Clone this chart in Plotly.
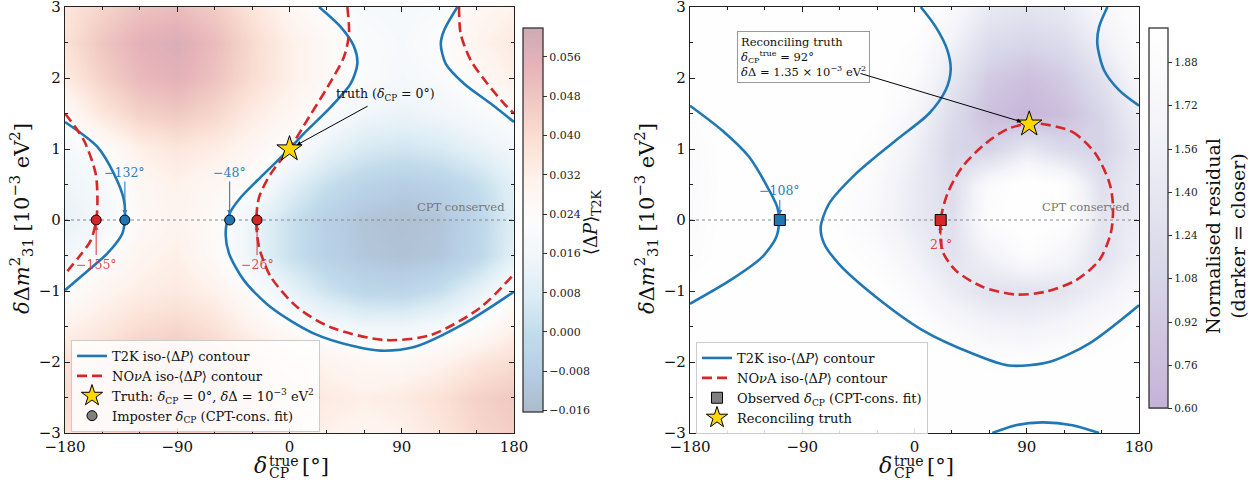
import plotly.graph_objects as go

# ---------------------------------------------------------------------------
# Background fields sampled on a coarse (delta_CP, delta dm^2_31) grid
# ---------------------------------------------------------------------------
DCP_GRID = [-180, -150, -120, -90, -60, -30, 0, 30, 60, 90, 120, 150, 180]
DM_GRID = [-3.0, -2.5, -2.0, -1.5, -1.0, -0.5, 0.0, 0.5, 1.0, 1.5, 2.0, 2.5, 3.0]

# <Delta P>_T2K (rows follow DM_GRID, columns follow DCP_GRID)
DP_T2K = [
    [0.038, 0.042, 0.046, 0.047, 0.043, 0.038, 0.034, 0.031, 0.029, 0.031, 0.036, 0.042, 0.045],
    [0.040, 0.045, 0.050, 0.052, 0.047, 0.042, 0.038, 0.034, 0.032, 0.034, 0.038, 0.044, 0.047],
    [0.038, 0.042, 0.047, 0.049, 0.045, 0.040, 0.035, 0.030, 0.027, 0.027, 0.030, 0.036, 0.040],
    [0.031, 0.035, 0.040, 0.042, 0.038, 0.030, 0.024, 0.018, 0.015, 0.015, 0.018, 0.023, 0.031],
    [0.022, 0.029, 0.033, 0.035, 0.031, 0.023, 0.012, 0.003, -0.003, -0.004, 0.001, 0.011, 0.022],
    [0.016, 0.023, 0.029, 0.032, 0.025, 0.013, 0.002, -0.006, -0.011, -0.013, -0.011, -0.003, 0.010],
    [0.012, 0.016, 0.026, 0.030, 0.025, 0.013, 0.002, -0.007, -0.012, -0.014, -0.012, -0.004, 0.009],
    [0.014, 0.018, 0.027, 0.031, 0.027, 0.023, 0.010, 0.001, -0.005, -0.008, -0.006, 0.000, 0.010],
    [0.018, 0.023, 0.032, 0.036, 0.033, 0.028, 0.022, 0.012, 0.006, 0.004, 0.006, 0.011, 0.016],
    [0.025, 0.036, 0.044, 0.047, 0.042, 0.034, 0.028, 0.021, 0.015, 0.013, 0.015, 0.019, 0.024],
    [0.034, 0.044, 0.052, 0.055, 0.049, 0.040, 0.032, 0.026, 0.021, 0.018, 0.020, 0.026, 0.032],
    [0.038, 0.048, 0.055, 0.058, 0.051, 0.041, 0.032, 0.026, 0.021, 0.019, 0.022, 0.030, 0.035],
    [0.036, 0.043, 0.049, 0.051, 0.046, 0.037, 0.028, 0.022, 0.019, 0.018, 0.020, 0.027, 0.031],
]

# normalised residual of the joint fit (same grid)
RESIDUAL = [
    [2.10, 2.10, 2.10, 2.10, 2.10, 2.10, 2.10, 2.10, 2.10, 2.10, 2.10, 2.10, 2.10],
    [2.10, 2.10, 2.10, 2.10, 2.10, 2.10, 2.10, 2.10, 2.10, 2.10, 2.10, 2.10, 2.10],
    [2.10, 2.10, 2.10, 2.10, 2.10, 2.10, 2.10, 2.05, 1.95, 1.95, 2.00, 2.05, 2.10],
    [2.10, 2.10, 2.10, 2.10, 2.10, 2.10, 2.00, 1.80, 1.65, 1.60, 1.70, 1.85, 2.00],
    [2.05, 2.10, 2.10, 2.10, 2.10, 2.05, 1.80, 1.50, 1.30, 1.30, 1.35, 1.55, 1.80],
    [1.90, 2.05, 2.10, 2.10, 2.05, 1.90, 1.60, 1.30, 1.60, 1.90, 1.70, 1.30, 1.60],
    [1.85, 2.05, 2.10, 2.10, 1.95, 1.75, 1.45, 1.25, 1.95, 2.10, 2.00, 1.35, 1.50],
    [1.80, 2.05, 2.10, 2.10, 2.00, 1.80, 1.45, 1.20, 1.85, 2.10, 1.95, 1.25, 1.50],
    [1.85, 2.05, 2.10, 2.10, 2.05, 1.90, 1.55, 1.10, 1.05, 1.40, 1.15, 1.05, 1.45],
    [1.95, 2.10, 2.10, 2.10, 2.10, 2.00, 1.70, 1.20, 0.80, 0.65, 0.80, 1.10, 1.55],
    [2.05, 2.10, 2.10, 2.10, 2.10, 2.05, 1.85, 1.40, 0.95, 0.80, 0.95, 1.30, 1.75],
    [2.10, 2.10, 2.10, 2.10, 2.10, 2.10, 1.95, 1.60, 1.20, 1.10, 1.20, 1.55, 1.90],
    [2.10, 2.10, 2.10, 2.10, 2.10, 2.10, 2.05, 1.80, 1.45, 1.35, 1.45, 1.75, 1.95],
]

# ---------------------------------------------------------------------------
# Iso-<Delta P> contours, panel 1 (delta_CP in deg, delta dm^2 in 1e-3 eV^2)
# ---------------------------------------------------------------------------
L_T2K = [
    ([-180, -154, -140.7, -132.7, -132.1, -134, -146, -164.8, -180],
     [1.38, 1.03, 0.65, 0.28, 0.0, -0.19, -0.47, -0.76, -0.99]),
    ([23.7, 41, 51.8, 54.4, 49, 33, 11.7, -0.1, -20.4, -39, -48, -51.2, -48.5, -36.5,
      -15, 19.7, 54.4, 73.1, 99.9, 140, 180],
     [3.0, 2.72, 2.44, 2.20, 1.92, 1.59, 1.22, 1.0, 0.65, 0.32, 0.09, -0.19, -0.47, -0.85,
      -1.23, -1.60, -1.79, -1.84, -1.79, -1.46, -1.01]),
    ([134.6, 123.9, 121.3, 125.3, 140, 161.3, 180],
     [3.0, 2.67, 2.48, 2.20, 1.92, 1.64, 1.38]),
]
L_NOVA = [
    ([-180, -164.8, -155.4, -154, -154.9, -159.4, -168.8, -180],
     [1.50, 1.12, 0.65, 0.28, 0.0, -0.29, -0.52, -0.76]),
    ([46.4, 47.7, 43.7, 30.4, 15.7, -0.1, -15.1, -24.4, -26.6, -24.4, -15, 6.3, 33, 75.8,
      113.2, 153.3, 180],
     [3.0, 2.62, 2.30, 1.87, 1.45, 1.0, 0.65, 0.32, 0.0, -0.38, -0.80, -1.23, -1.51, -1.69,
      -1.62, -1.23, -0.76]),
    ([135.9, 137.3, 145.3, 158.7, 172, 180],
     [3.0, 2.62, 2.25, 1.92, 1.64, 1.50]),
]
L_TRUTH = (0, 1.0)
L_IMPOSTER_T2K = [-132, -48]
L_IMPOSTER_NOVA = [-155, -26]

# ---------------------------------------------------------------------------
# Contours, panel 2
# ---------------------------------------------------------------------------
R_T2K = [
    ([-180, -154.1, -132.7, -119.3, -110, -108.6, -110.8, -122, -146, -180],
     [1.61, 1.26, 0.89, 0.51, 0.18, 0.0, -0.24, -0.52, -0.83, -1.18]),
    ([5, 17, 26.4, 29, 25, 11.7, -15.1, -47.1, -68.5, -75.2, -72.5, -60.5, -31.1, 6.3,
      46.4, 75.8, 107.9, 140, 180],
     [3.0, 2.72, 2.39, 2.11, 1.83, 1.50, 1.12, 0.65, 0.23, -0.10, -0.33, -0.62, -1.08,
      -1.55, -1.88, -2.05, -2.0, -1.74, -1.20]),
    ([154.7, 148, 146.6, 152, 164, 180],
     [3.0, 2.72, 2.48, 2.11, 1.83, 1.61]),
    ([62.4, 81.2, 102.5, 126.6, 148],
     [-3.0, -2.89, -2.85, -2.89, -3.0]),
]
R_NOVA = [
    ([97.2, 126.6, 145.3, 156.5, 159.2, 157.3, 148, 129.3, 105.2, 81.2, 54.4, 33, 22.3, 21,
      26.4, 38.4, 57.1, 75.8, 97.2],
     [1.36, 1.24, 0.93, 0.51, 0.18, -0.19, -0.57, -0.85, -1.01, -1.05, -0.94, -0.71, -0.43,
      0.0, 0.37, 0.75, 1.08, 1.29, 1.36]),
]
R_TRUTH = (92, 1.35)
R_OBS_T2K = -108
R_OBS_NOVA = 21

CPT_CONSERVED = 0.0
DCP_RANGE = [-180, 180]
DM_RANGE = [-3, 3]
CB1_TICKS = [-0.016, -0.008, 0.000, 0.008, 0.016, 0.024, 0.032, 0.040, 0.048, 0.056]
CB2_TICKS = [0.60, 0.76, 0.92, 1.08, 1.24, 1.40, 1.56, 1.72, 1.88]

# ---------------------------------------------------------------------------
# Styling helpers
# ---------------------------------------------------------------------------
W, H = 1251, 482
FONT = "DejaVu Serif"
BLUE = "#1f77b4"
RED = "#d62728"
BLUE_TXT = "#2f7dbb"
RED_TXT = "rgba(214,39,40,0.85)"


def faded(stops, alpha):
    out = []
    for p, (r, g, b) in stops:
        out.append([p, "rgb(%d,%d,%d)" % tuple(round(255 - alpha * (255 - c)) for c in (r, g, b))])
    return out


RDBU_R = [(0.0, (5, 48, 97)), (0.1, (33, 102, 172)), (0.2, (67, 147, 195)),
          (0.3, (146, 197, 222)), (0.4, (209, 229, 240)), (0.5, (247, 247, 247)),
          (0.6, (253, 219, 199)), (0.7, (244, 165, 130)), (0.8, (214, 96, 77)),
          (0.9, (178, 24, 43)), (1.0, (103, 0, 31))]
PURPLES_R = [(0.0, (63, 0, 125)), (0.125, (84, 39, 143)), (0.25, (106, 81, 163)),
             (0.375, (128, 125, 186)), (0.5, (158, 154, 200)), (0.625, (188, 189, 220)),
             (0.75, (218, 218, 235)), (0.875, (239, 237, 245)), (1.0, (252, 251, 253))]


def px_x(p):
    return p / W


def px_y(p):
    return 1 - p / H


def minus(s):
    return s.replace("-", "\u2212")


fig = go.Figure()

# ---------------------------- panel 1 --------------------------------------
fig.add_trace(go.Heatmap(
    x=DCP_GRID, y=DM_GRID, z=DP_T2K, zsmooth="best",
    colorscale=faded(RDBU_R, 0.33), zmin=-0.0163, zmax=0.0619,
    xaxis="x", yaxis="y", hoverinfo="skip",
    colorbar=dict(x=px_x(523), xanchor="left", xpad=0, ypad=0,
                  y=px_y(220), yanchor="middle", len=384 / H, lenmode="fraction",
                  thickness=20, thicknessmode="pixels",
                  outlinewidth=1.3, outlinecolor="#333",
                  tickvals=CB1_TICKS, ticktext=[minus("%.3f" % v) for v in CB1_TICKS],
                  ticks="outside", ticklen=4, tickwidth=1, tickcolor="#333",
                  tickfont=dict(family=FONT, size=11, color="#222")),
))

fig.add_trace(go.Scatter(x=DCP_RANGE, y=[CPT_CONSERVED] * 2, mode="lines",
                         line=dict(color="#888", width=1, dash="dot"),
                         xaxis="x", yaxis="y", showlegend=False, hoverinfo="skip"))

for i, (xs, ys) in enumerate(L_T2K):
    fig.add_trace(go.Scatter(
        x=xs, y=ys, mode="lines", line=dict(color=BLUE, width=2.6, shape="spline", smoothing=0.8),
        name="T2K iso-⟨Δ<i>P</i>⟩ contour", legend="legend", legendrank=1,
        showlegend=(i == 0), xaxis="x", yaxis="y", hoverinfo="skip"))
for i, (xs, ys) in enumerate(L_NOVA):
    fig.add_trace(go.Scatter(
        x=xs, y=ys, mode="lines",
        line=dict(color=RED, width=2.6, dash="10px,5px", shape="spline", smoothing=0.8),
        name="NO<i>ν</i>A iso-⟨Δ<i>P</i>⟩ contour", legend="legend", legendrank=2,
        showlegend=(i == 0), xaxis="x", yaxis="y", hoverinfo="skip"))

fig.add_trace(go.Scatter(
    x=L_IMPOSTER_T2K, y=[CPT_CONSERVED] * len(L_IMPOSTER_T2K), mode="markers",
    marker=dict(symbol="circle", size=10, color=BLUE, line=dict(color="black", width=1)),
    xaxis="x", yaxis="y", showlegend=False, hoverinfo="skip"))
fig.add_trace(go.Scatter(
    x=L_IMPOSTER_NOVA, y=[CPT_CONSERVED] * len(L_IMPOSTER_NOVA), mode="markers",
    marker=dict(symbol="circle", size=10, color=RED, line=dict(color="black", width=1)),
    xaxis="x", yaxis="y", showlegend=False, hoverinfo="skip"))
fig.add_trace(go.Scatter(
    x=[L_TRUTH[0]], y=[L_TRUTH[1]], mode="markers",
    marker=dict(symbol="star", size=19, color="#ffd700", line=dict(color="black", width=1)),
    name="Truth: <i>δ</i><sub>CP</sub> = 0°, <i>δ</i>Δ = 10<sup>−3</sup> eV<sup>2</sup>",
    legend="legend", legendrank=3, xaxis="x", yaxis="y", hoverinfo="skip"))
fig.add_trace(go.Scatter(
    x=[None], y=[None], mode="markers",
    marker=dict(symbol="circle", size=10, color="gray", line=dict(color="black", width=1)),
    name="Imposter <i>δ</i><sub>CP</sub> (CPT-cons. fit)",
    legend="legend", legendrank=4, xaxis="x", yaxis="y"))

# ---------------------------- panel 2 --------------------------------------
fig.add_trace(go.Heatmap(
    x=DCP_GRID, y=DM_GRID, z=RESIDUAL, zsmooth="best",
    colorscale=faded(PURPLES_R, 0.30), zmin=0.60, zmax=2.006,
    xaxis="x2", yaxis="y2", hoverinfo="skip",
    colorbar=dict(x=px_x(1148.5), xanchor="left", xpad=0, ypad=0,
                  y=px_y(218.5), yanchor="middle", len=380 / H, lenmode="fraction",
                  thickness=19, thicknessmode="pixels",
                  outlinewidth=1.3, outlinecolor="#333",
                  tickvals=CB2_TICKS, ticktext=["%.2f" % v for v in CB2_TICKS],
                  ticks="outside", ticklen=4, tickwidth=1, tickcolor="#333",
                  tickfont=dict(family=FONT, size=10.5, color="#222")),
))

fig.add_trace(go.Scatter(x=DCP_RANGE, y=[CPT_CONSERVED] * 2, mode="lines",
                         line=dict(color="#888", width=1, dash="dot"),
                         xaxis="x2", yaxis="y2", showlegend=False, hoverinfo="skip"))

for i, (xs, ys) in enumerate(R_T2K):
    fig.add_trace(go.Scatter(
        x=xs, y=ys, mode="lines", line=dict(color=BLUE, width=2.6, shape="spline", smoothing=0.8),
        name="T2K iso-⟨Δ<i>P</i>⟩ contour", legend="legend2", legendrank=1,
        showlegend=(i == 0), xaxis="x2", yaxis="y2", hoverinfo="skip"))
for i, (xs, ys) in enumerate(R_NOVA):
    fig.add_trace(go.Scatter(
        x=xs, y=ys, mode="lines",
        line=dict(color=RED, width=2.6, dash="10px,5px", shape="spline", smoothing=0.8),
        name="NO<i>ν</i>A iso-⟨Δ<i>P</i>⟩ contour", legend="legend2", legendrank=2,
        showlegend=(i == 0), xaxis="x2", yaxis="y2", hoverinfo="skip"))

fig.add_trace(go.Scatter(
    x=[R_OBS_T2K], y=[CPT_CONSERVED], mode="markers",
    marker=dict(symbol="square", size=11, color=BLUE, line=dict(color="black", width=1)),
    xaxis="x2", yaxis="y2", showlegend=False, hoverinfo="skip"))
fig.add_trace(go.Scatter(
    x=[R_OBS_NOVA], y=[CPT_CONSERVED], mode="markers",
    marker=dict(symbol="square", size=11, color=RED, line=dict(color="black", width=1)),
    xaxis="x2", yaxis="y2", showlegend=False, hoverinfo="skip"))
fig.add_trace(go.Scatter(
    x=[None], y=[None], mode="markers",
    marker=dict(symbol="square", size=11, color="gray", line=dict(color="black", width=1)),
    name="Observed <i>δ</i><sub>CP</sub> (CPT-cons. fit)",
    legend="legend2", legendrank=3, xaxis="x2", yaxis="y2"))
fig.add_trace(go.Scatter(
    x=[R_TRUTH[0]], y=[R_TRUTH[1]], mode="markers",
    marker=dict(symbol="star", size=19, color="#ffd700", line=dict(color="black", width=1)),
    name="Reconciling truth", legend="legend2", legendrank=4,
    xaxis="x2", yaxis="y2", hoverinfo="skip"))

# ---------------------------- axes -----------------------------------------
axis_common = dict(showgrid=False, zeroline=False, showline=True, linecolor="#222",
                   linewidth=1.3, mirror="ticks", ticks="inside", ticklen=5, tickwidth=1.1,
                   tickcolor="#222", tickfont=dict(family=FONT, size=15, color="#111"),
                   automargin=False, ticklabeloverflow="allow")
xcommon = dict(axis_common, range=DCP_RANGE, tickvals=[-180, -90, 0, 90, 180],
               minor=dict(dtick=30, tick0=-180, ticks="inside", ticklen=3, tickwidth=1, tickcolor="#222"))
ycommon = dict(axis_common, range=DM_RANGE, tickvals=[-3, -2, -1, 0, 1, 2, 3],
               minor=dict(dtick=0.5, tick0=-3, ticks="inside", ticklen=3, tickwidth=1, tickcolor="#222"))

fig.update_layout(
    width=W, height=H, margin=dict(l=0, r=0, t=0, b=0, pad=0, autoexpand=False),
    paper_bgcolor="white", plot_bgcolor="white",
    font=dict(family=FONT, color="#111"),
    xaxis=dict(xcommon, domain=[px_x(65), px_x(514)], anchor="y"),
    yaxis=dict(ycommon, domain=[px_y(433), px_y(7)], anchor="x"),
    xaxis2=dict(xcommon, domain=[px_x(690), px_x(1139)], anchor="y2"),
    yaxis2=dict(ycommon, domain=[px_y(433), px_y(7)], anchor="x2"),
    legend=dict(x=px_x(71), y=px_y(340), xanchor="left", yanchor="top",
                bgcolor="rgba(255,255,255,0.85)", bordercolor="#cccccc", borderwidth=1,
                font=dict(family=FONT, size=13, color="#111"), traceorder="normal"),
    legend2=dict(x=px_x(696), y=px_y(342), xanchor="left", yanchor="top",
                 bgcolor="rgba(255,255,255,0.85)", bordercolor="#cccccc", borderwidth=1,
                 font=dict(family=FONT, size=13, color="#111"), traceorder="normal"),
    showlegend=True,
)

# ---------------------------- annotations ----------------------------------
ann = []


def label_arrow(xa, ya, x, text, color, dm_text):
    ann.append(dict(xref=xa, yref=ya, axref=xa, ayref=ya, x=x, y=CPT_CONSERVED,
                    ax=x, ay=dm_text, text=text, showarrow=True, arrowhead=2,
                    arrowsize=0.9, arrowwidth=1.1, arrowcolor=color, standoff=5,
                    font=dict(family=FONT, size=12.5, color=color)))


for v in L_IMPOSTER_T2K:
    label_arrow("x", "y", v, minus("%d°" % v), BLUE_TXT, 0.67)
for v in L_IMPOSTER_NOVA:
    label_arrow("x", "y", v, minus("%d°" % v), RED_TXT, -0.62)
label_arrow("x2", "y2", R_OBS_T2K, minus("%d°" % R_OBS_T2K), BLUE_TXT, 0.41)
label_arrow("x2", "y2", R_OBS_NOVA, minus("%d°" % R_OBS_NOVA), RED_TXT, -0.34)

# truth pointer, panel 1
ann.append(dict(xref="x", yref="y", x=77, y=1.77, showarrow=False,
                text="truth (<i>δ</i><sub>CP</sub> = 0°)",
                font=dict(family=FONT, size=12.5, color="#111")))
ann.append(dict(xref="x", yref="y", axref="x", ayref="y", x=L_TRUTH[0], y=L_TRUTH[1],
                ax=63.8, ay=1.615, text="", showarrow=True, arrowhead=2, arrowsize=0.9,
                arrowwidth=1, arrowcolor="black", standoff=8))

# reconciling-truth box, panel 2
ann.append(dict(xref="x2", yref="y2", x=-142.6, y=2.66, xanchor="left", yanchor="top",
                showarrow=False, align="left",
                text=("Reconciling truth<br><i>δ</i><sub>CP</sub><sup>true</sup> = 92°<br>"
                      "<i>δ</i>Δ = 1.35 × 10<sup>−3</sup> eV<sup>2</sup>"),
                bgcolor="white", bordercolor="#999", borderwidth=1, borderpad=3,
                font=dict(family=FONT, size=11.5, color="#111")))
ann.append(dict(xref="x2", yref="y2", axref="x2", ayref="y2", x=R_TRUTH[0], y=R_TRUTH[1],
                ax=-44.5, ay=2.07, text="", showarrow=True, arrowhead=2, arrowsize=0.9,
                arrowwidth=1, arrowcolor="black", standoff=8))

for xa, ya in (("x", "y"), ("x2", "y2")):
    ann.append(dict(xref=xa, yref=ya, x=174, y=0.19, xanchor="right", yanchor="middle",
                    showarrow=False, text="CPT conserved",
                    font=dict(family=FONT, size=11.5, color="#777")))

# axis titles
for off in (0, 625):
    ann.append(dict(xref="paper", yref="paper", x=px_x(252 + off), y=px_y(465),
                    xanchor="left", yanchor="middle", showarrow=False, text="<i>δ</i>",
                    font=dict(family=FONT, size=22, color="#111")))
    ann.append(dict(xref="paper", yref="paper", x=px_x(267 + off), y=px_y(461),
                    xanchor="left", yanchor="middle", showarrow=False, text="true",
                    font=dict(family=FONT, size=14, color="#111")))
    ann.append(dict(xref="paper", yref="paper", x=px_x(267 + off), y=px_y(473),
                    xanchor="left", yanchor="middle", showarrow=False, text="CP",
                    font=dict(family=FONT, size=14, color="#111")))
    ann.append(dict(xref="paper", yref="paper", x=px_x(300 + off), y=px_y(466),
                    xanchor="left", yanchor="middle", showarrow=False, text="[°]",
                    font=dict(family=FONT, size=21, color="#111")))
    ann.append(dict(xref="paper", yref="paper", x=px_x(21 + off), y=px_y(219),
                    xanchor="center", yanchor="middle", showarrow=False, textangle=-90,
                    text="<i>δ</i>Δ<i>m</i><sup>2</sup><sub>31</sub> [10<sup>−3</sup> eV<sup>2</sup>]",
                    font=dict(family=FONT, size=21, color="#111")))

# colour-bar titles
ann.append(dict(xref="paper", yref="paper", x=px_x(592), y=px_y(222),
                xanchor="center", yanchor="middle", showarrow=False, textangle=-90,
                text="⟨Δ<i>P</i>⟩<sub>T2K</sub>", font=dict(family=FONT, size=18, color="#111")))
ann.append(dict(xref="paper", yref="paper", x=px_x(1225), y=px_y(236),
                xanchor="center", yanchor="middle", showarrow=False, textangle=-90,
                text="Normalised residual<br>(darker = closer)",
                font=dict(family=FONT, size=19, color="#111")))

fig.update_layout(annotations=ann)

fig.write_html("out.html")
